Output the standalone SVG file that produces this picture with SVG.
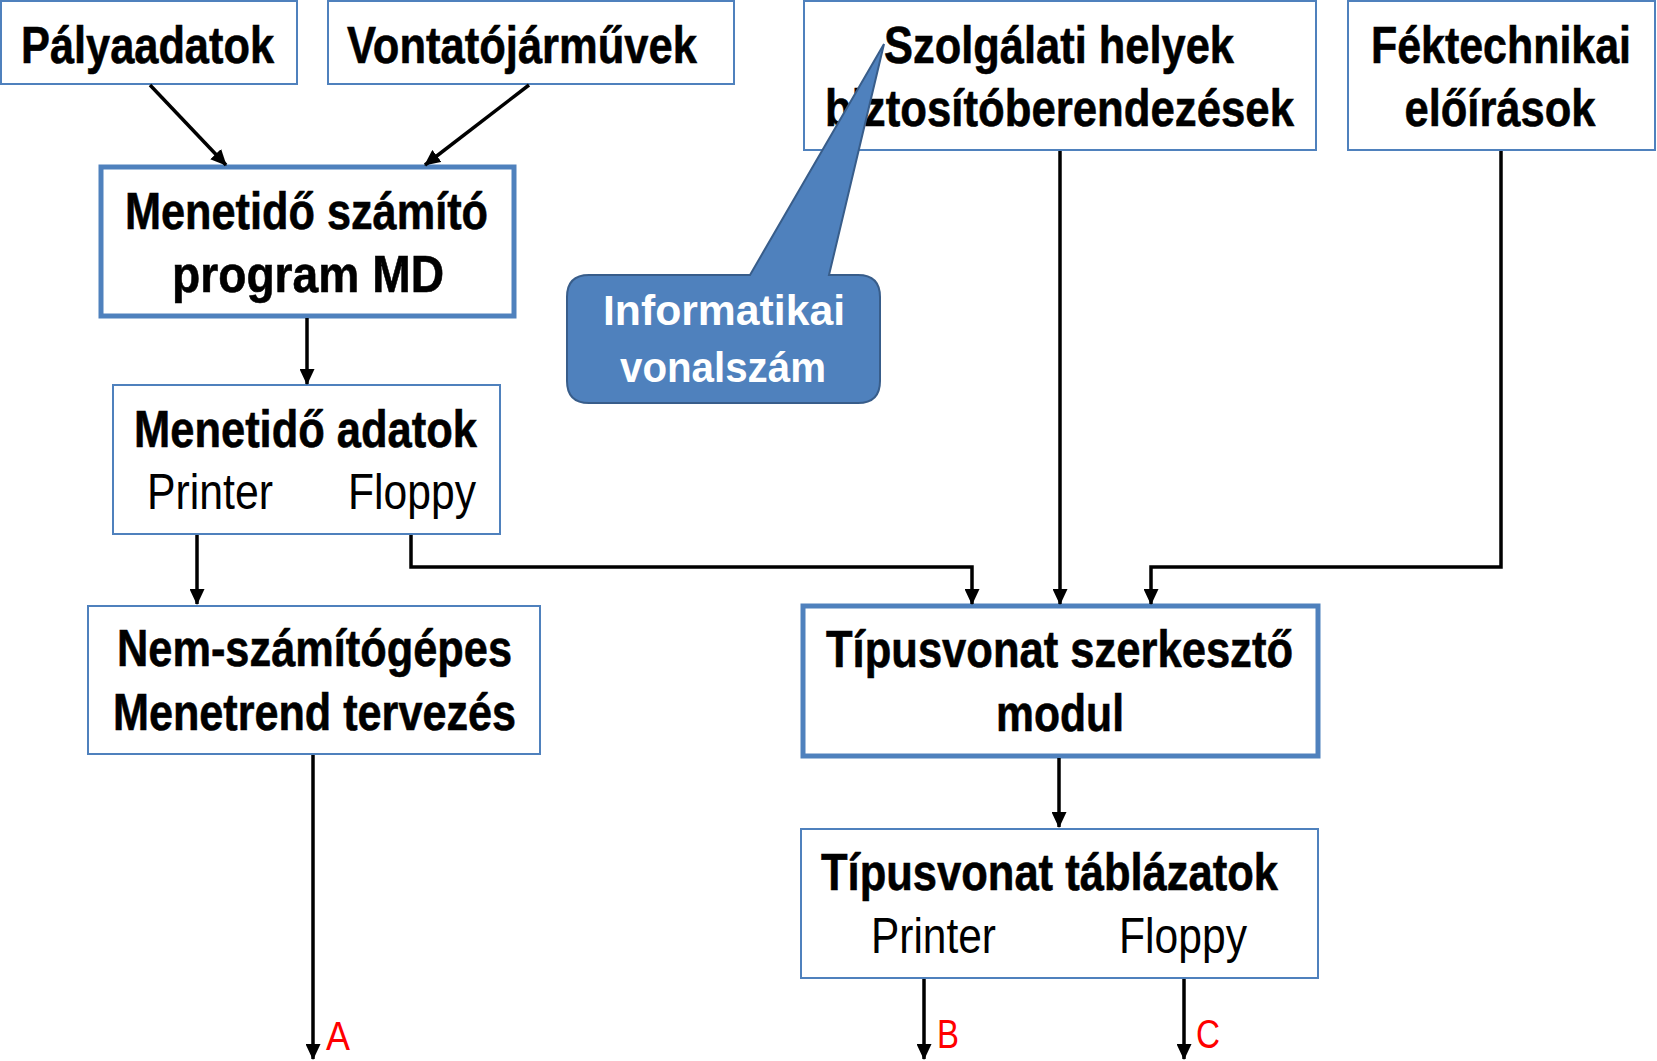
<svg xmlns="http://www.w3.org/2000/svg" width="1657" height="1061" viewBox="0 0 1657 1061">
<style>
.box{fill:#fff;stroke:#4F81BD;stroke-width:2}
.tbox{fill:#fff;stroke:#4F81BD;stroke-width:5}
.b{font-family:"Liberation Sans",Arial,sans-serif;font-weight:bold;font-size:52px;fill:#000;stroke:#000;stroke-width:0.6}
.r{font-family:"Liberation Sans",Arial,sans-serif;font-size:50px;fill:#000}
.w{font-family:"Liberation Sans",Arial,sans-serif;font-weight:bold;font-size:42px;fill:#fff}
.red{font-family:"Liberation Sans",Arial,sans-serif;font-size:40px;fill:#FF0000}
.c{fill:none;stroke:#000;stroke-width:3.5;marker-end:url(#ah)}
</style>
<defs>
<marker id="ah" markerUnits="userSpaceOnUse" markerWidth="16" markerHeight="15" refX="15" refY="7.5" orient="auto">
<path d="M0,0 L16,7.5 L0,15 Z" fill="#000"/>
</marker>
</defs>
<rect width="1657" height="1061" fill="#fff"/>

<g id="palyaadatok">
<rect class="box" x="1" y="1" width="296" height="83"/>
<text class="b" x="21" y="63" textLength="253" lengthAdjust="spacingAndGlyphs">Pályaadatok</text>
</g>
<g id="vontatojarmuvek">
<rect class="box" x="328" y="1" width="406" height="83"/>
<text class="b" x="347" y="63" textLength="350" lengthAdjust="spacingAndGlyphs">Vontatójárművek</text>
</g>
<g id="menetido-szamito">
<rect class="tbox" x="101" y="167" width="413" height="149"/>
<text class="b" x="125" y="229" textLength="363" lengthAdjust="spacingAndGlyphs">Menetidő számító</text>
<text class="b" x="172" y="292" textLength="272" lengthAdjust="spacingAndGlyphs">program MD</text>
</g>
<g id="szolgalati-helyek">
<rect class="box" x="804" y="1" width="512" height="149"/>
<text class="b" x="884" y="63" textLength="350" lengthAdjust="spacingAndGlyphs">Szolgálati helyek</text>
<text class="b" x="825" y="126" textLength="469" lengthAdjust="spacingAndGlyphs">biztosítóberendezések</text>
</g>
<g id="fektechnikai">
<rect class="box" x="1348" y="1" width="307" height="149"/>
<text class="b" x="1501" y="63" text-anchor="middle" font-size="50" textLength="260" lengthAdjust="spacingAndGlyphs">Féktechnikai</text>
<text class="b" x="1500" y="126" text-anchor="middle" textLength="191" lengthAdjust="spacingAndGlyphs">előírások</text>
</g>
<g id="informatikai-vonalszam">
<path d="M589,275 L750,275 L884,44 L829,275 L858,275 Q880,275 880,297 L880,381 Q880,403 858,403 L589,403 Q567,403 567,381 L567,297 Q567,275 589,275 Z" fill="#4F81BD" stroke="#385D8A" stroke-width="2"/>
<text class="w" x="603" y="325" textLength="242" lengthAdjust="spacingAndGlyphs">Informatikai</text>
<text class="w" x="620" y="382" textLength="206" lengthAdjust="spacingAndGlyphs">vonalszám</text>
</g>
<g id="menetido-adatok">
<rect class="box" x="113" y="385" width="387" height="149"/>
<text class="b" x="134" y="447" textLength="343" lengthAdjust="spacingAndGlyphs">Menetidő adatok</text>
<text class="r" x="147" y="509" textLength="126" lengthAdjust="spacingAndGlyphs">Printer</text>
<text class="r" x="348" y="509" textLength="128" lengthAdjust="spacingAndGlyphs">Floppy</text>
</g>
<g id="nem-szamitogepes">
<rect class="box" x="88" y="606" width="452" height="148"/>
<text class="b" x="117" y="666" textLength="395" lengthAdjust="spacingAndGlyphs">Nem-számítógépes</text>
<text class="b" x="113" y="730" textLength="403" lengthAdjust="spacingAndGlyphs">Menetrend tervezés</text>
</g>
<g id="tipusvonat-szerkeszto">
<rect class="tbox" x="803" y="606" width="515" height="150"/>
<text class="b" x="826" y="667" textLength="467" lengthAdjust="spacingAndGlyphs">Típusvonat szerkesztő</text>
<text class="b" x="996" y="731" textLength="128" lengthAdjust="spacingAndGlyphs">modul</text>
</g>
<g id="tipusvonat-tablazatok">
<rect class="box" x="801" y="829" width="517" height="149"/>
<text class="b" x="821" y="890" textLength="457" lengthAdjust="spacingAndGlyphs">Típusvonat táblázatok</text>
<text class="r" x="871" y="953" textLength="125" lengthAdjust="spacingAndGlyphs">Printer</text>
<text class="r" x="1119" y="953" textLength="128" lengthAdjust="spacingAndGlyphs">Floppy</text>
</g>

<g id="connectors">
<line class="c" x1="150" y1="85" x2="226" y2="165"/>
<line class="c" x1="529" y1="85" x2="425" y2="165"/>
<line class="c" x1="307" y1="318" x2="307" y2="384"/>
<line class="c" x1="197" y1="535" x2="197" y2="604"/>
<polyline class="c" points="411,535 411,567 972,567 972,604"/>
<line class="c" x1="1060" y1="151" x2="1060" y2="604"/>
<polyline class="c" points="1501,151 1501,567 1151,567 1151,604"/>
<line class="c" x1="1059" y1="758" x2="1059" y2="827"/>
<line class="c" x1="313" y1="755" x2="313" y2="1059"/>
<line class="c" x1="924" y1="979" x2="924" y2="1059"/>
<line class="c" x1="1184" y1="979" x2="1184" y2="1059"/>
</g>
<g id="labels">
<text class="red" x="326" y="1050" textLength="24" lengthAdjust="spacingAndGlyphs">A</text>
<text class="red" x="937" y="1048" textLength="22" lengthAdjust="spacingAndGlyphs">B</text>
<text class="red" x="1196" y="1048" textLength="24" lengthAdjust="spacingAndGlyphs">C</text>
</g>
</svg>
